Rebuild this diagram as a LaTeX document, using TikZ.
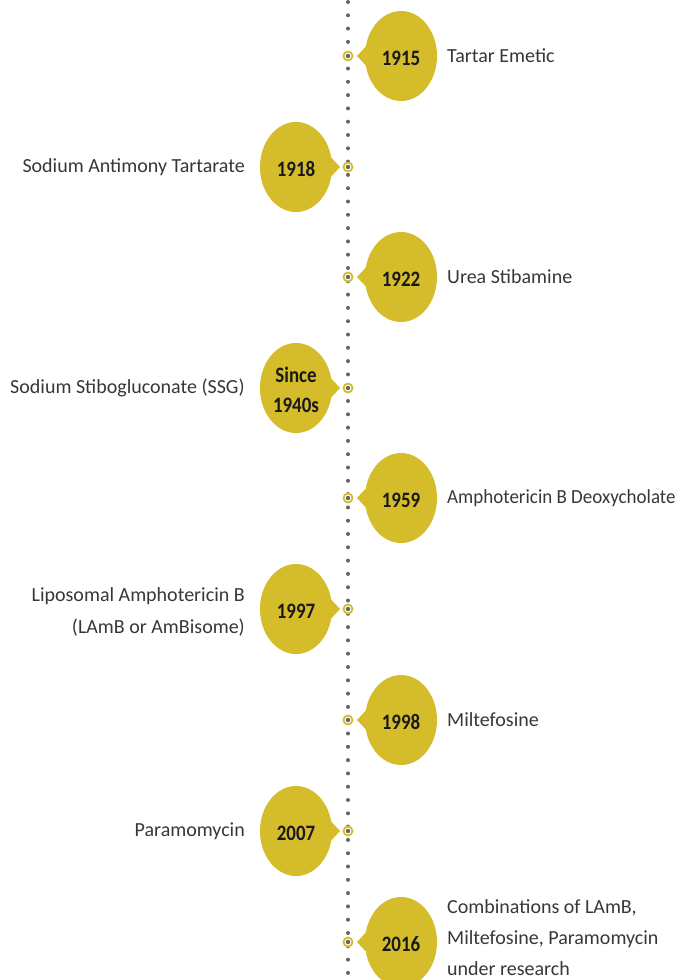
\documentclass[tikz,border=0pt]{standalone}
\usepackage{fontspec}
\setmainfont{Carlito}
\usetikzlibrary{shapes.geometric}
\definecolor{gold}{RGB}{212,188,42}
\definecolor{txt}{RGB}{55,55,55}
\definecolor{dotg}{RGB}{100,100,100}
\newcommand{\yrtext}[1]{\raisebox{-3pt}[\height][\depth]{\scalebox{0.86}[1]{\begin{tabular}{@{}c@{}}#1\end{tabular}}}}
\tikzset{
  bubble/.style={ellipse, fill=gold, minimum width=72pt, minimum height=90pt, inner sep=0pt,
    font=\fontsize{22}{30}\selectfont\bfseries, text=black!90, align=center},
  ring/.style={circle, draw=gold, line width=1.8pt, fill=white, minimum size=9pt, inner sep=0pt,
    path picture={\fill[dotg] (path picture bounding box.center) circle (2.2pt);}},
  rlabel/.style={anchor=west, font=\fontsize{20}{31}\selectfont, text=txt, align=left, inner sep=0pt},
  llabel/.style={anchor=east, font=\fontsize{20}{32}\selectfont, text=txt, align=right, inner sep=0pt},
  timeline/.style={dotg, line width=4pt, line cap=round, dash pattern=on 0pt off 13.3pt}
}
\begin{document}
\begin{tikzpicture}[x=1pt,y=-1pt]
\useasboundingbox (0,0) rectangle (684,980);
\coordinate (top) at (348,2);
\coordinate (bot) at (348,980);
\draw[timeline] (top) -- (bot);
% right rows
\foreach \n/\y/\yr/\t in {1/56/1915/Tartar Emetic, 3/277/1922/Urea Stibamine, 5/498/1959/{\scalebox{0.95}[1]{Amphotericin B Deoxycholate}}, 7/720/1998/Miltefosine}{
  \node[ring] (r\n) at (348,\y) {};
  \node[bubble] (b\n) at (401,\y) {\yrtext{\yr}};
  \fill[gold] ([shift={(-31,-14)}]b\n.center) -- ([shift={(-44,0)}]b\n.center) -- ([shift={(-31,14)}]b\n.center) -- cycle;
  \node[rlabel] (t\n) at (447,\y) {\t};
}
% left rows
\foreach \n/\y/\yr/\t in {2/167/1918/Sodium Antimony Tartarate, 4/388/{Since\\1940s}/Sodium Stibogluconate (SSG), 8/831/2007/Paramomycin}{
  \node[ring] (r\n) at (348,\y) {};
  \node[bubble] (b\n) at (296,\y) {\yrtext{\yr}};
  \fill[gold] ([shift={(31,-14)}]b\n.center) -- ([shift={(44,0)}]b\n.center) -- ([shift={(31,14)}]b\n.center) -- cycle;
  \node[llabel] (t\n) at (245,\y) {\t};
}
\node[ring] (r6) at (348,609) {};
\node[bubble] (b6) at (296,609) {\yrtext{1997}};
\fill[gold] ([shift={(31,-14)}]b6.center) -- ([shift={(44,0)}]b6.center) -- ([shift={(31,14)}]b6.center) -- cycle;
\node[llabel] (t6) at (245,612) {Liposomal Amphotericin B\\(LAmB or AmBisome)};
% last row
\node[ring] (r9) at (348,942) {};
\node[bubble] (b9) at (401,942) {\yrtext{2016}};
\fill[gold] ([shift={(-31,-14)}]b9.center) -- ([shift={(-44,0)}]b9.center) -- ([shift={(-31,14)}]b9.center) -- cycle;
\node[rlabel] (t9) at (447,938) {Combinations of LAmB,\\Miltefosine, Paramomycin\\under research};
\end{tikzpicture}
\end{document}
